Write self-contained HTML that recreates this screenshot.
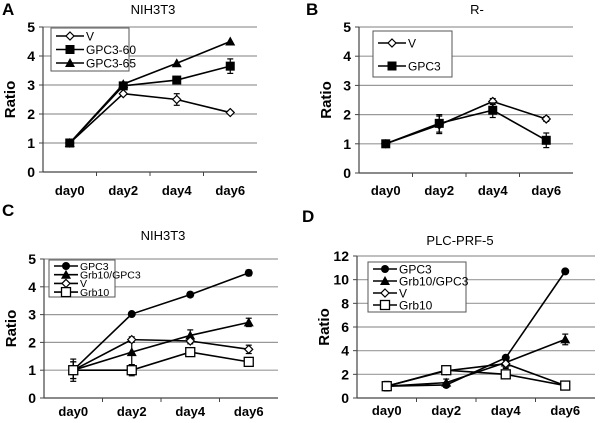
<!DOCTYPE html>
<html><head><meta charset="utf-8"><style>
body{margin:0;background:#fff;}
svg{display:block;font-family:"Liberation Sans",Arial,sans-serif;}
</style></head><body>
<svg id="fig" width="600" height="423" viewBox="0 0 600 423"></svg>
<script>
const categories=["day0","day2","day4","day6"];
// Panel A
const aV=[1,2.7,2.5,2.05], aG60=[1,2.97,3.17,3.65], aG65=[1,3.03,3.75,4.5];
const aVerr=[0,0.05,0.2,0.05], aG60err=[0,0.05,0.1,0.25], aG65err=[0,0,0,0];
// Panel B
const bV=[1,1.65,2.45,1.85], bG=[1,1.7,2.15,1.12];
const bVerr=[0.1,0.3,0.1,0.08], bGerr=[0.12,0.3,0.25,0.25];
// Panel C
const cG=[1,3.02,3.72,4.5], cGG=[1,1.65,2.25,2.72], cV=[1,2.1,2.05,1.75], cR=[1,1,1.65,1.3];
const cGerr=[0.1,0.05,0.08,0.1], cGGerr=[0.4,0.45,0.2,0.15], cVerr=[0.3,0.1,0.1,0.15], cRerr=[0.3,0.2,0.05,0.05];
// Panel D
const dG=[1,1.1,3.4,10.7], dGG=[1,1.3,3.0,4.95], dV=[1,2.3,2.9,1.05], dR=[1,2.35,2.0,1.05];
const dGerr=[0.4,0.2,0.2,0.1], dGGerr=[0.3,0.3,0.4,0.45], dVerr=[0.3,0.2,0.4,0.1], dRerr=[0.3,0.2,0.1,0.1];
const ticksA=[0,1,2,3,4,5], ticksD=[0,2,4,6,8,10,12];

const NS="http://www.w3.org/2000/svg", svg=document.getElementById('fig');
function el(tag,attrs,parent,txt){const e=document.createElementNS(NS,tag);for(const k in attrs)e.setAttribute(k,attrs[k]);if(txt!==undefined)e.textContent=txt;(parent||svg).appendChild(e);return e;}
function marker(g,type,x,y){
  let m;
  if(type==='circle')m=el('circle',{cx:x,cy:y,r:4,fill:'#000'},g);
  else if(type==='square')m=el('rect',{x:x-4.5,y:y-4.5,width:9,height:9,fill:'#000'},g);
  else if(type==='osquare')m=el('rect',{x:x-4.5,y:y-4.5,width:9,height:9,fill:'#fff',stroke:'#000','stroke-width':1.3},g);
  else if(type==='tri')m=el('polygon',{points:`${x},${y-5} ${x-5},${y+4} ${x+5},${y+4}`,fill:'#000'},g);
  else m=el('polygon',{points:`${x},${y-4} ${x+4},${y} ${x},${y+4} ${x-4},${y}`,fill:'#fff',stroke:'#000','stroke-width':1.2},g);
  return m;
}
function panel(p){
  const g=el('g',{});
  
  
  const max=p.ticks[p.ticks.length-1];
  const ys=v=>p.y0-(v/max)*(p.y0-p.y1);
  const xs=i=>p.x0+(i+0.5)*(p.x1-p.x0)/categories.length;
  const lt=el('text',{x:p.lx,y:p.ly,'font-size':17,'font-weight':'bold'},g,p.id);
  
  const tt=el('text',{x:p.tx,y:p.ty,'font-size':13,'text-anchor':'middle'},g,p.title);
  
  p.ticks.forEach(t=>{
    if(t>0){const gl=el('line',{x1:p.x0,x2:p.x1,y1:ys(t),y2:ys(t),stroke:'#999','stroke-width':1.2},g);
      }
    el('line',{x1:p.x0-4,x2:p.x0,y1:ys(t),y2:ys(t),stroke:'#444'},g);
    const tl=el('text',{x:p.x0-8,y:ys(t)+5,'font-size':14,'font-weight':'bold','text-anchor':'end'},g,t);
    
  });
  el('line',{x1:p.x0,x2:p.x0,y1:p.y1,y2:p.y0,stroke:'#444','stroke-width':1.2},g);
  el('line',{x1:p.x0,x2:p.x1,y1:p.y0,y2:p.y0,stroke:'#444','stroke-width':1.2},g);
  for(let i=1;i<categories.length;i++){const x=p.x0+i*(p.x1-p.x0)/categories.length;el('line',{x1:x,x2:x,y1:p.y0,y2:p.y0+4,stroke:'#444'},g);}
  categories.forEach((c,i)=>{const t=el('text',{x:xs(i),y:p.y0+p.xo,'font-size':13,'font-weight':'bold','text-anchor':'middle'},g,c);
    });
  const yt=el('text',{x:0,y:0,'font-size':15,'font-weight':'bold','text-anchor':'middle',transform:`translate(${p.x0-28},${(p.y0+p.y1)/2}) rotate(-90)`},g,'Ratio');
  
  p.series.forEach(s=>{
    const pts=s.v.map((v,i)=>xs(i)+','+ys(v)).join(' ');
    const pl=el('polyline',{points:pts,fill:'none',stroke:'#000','stroke-width':1.6},g);
    
    
    s.v.forEach((v,i)=>{const e=s.e[i];if(e>0){const x=xs(i);
      el('line',{x1:x,x2:x,y1:ys(v-e),y2:ys(v+e),stroke:'#000','stroke-width':1.2},g);
      el('line',{x1:x-3,x2:x+3,y1:ys(v-e),y2:ys(v-e),stroke:'#000','stroke-width':1.2},g);
      el('line',{x1:x-3,x2:x+3,y1:ys(v+e),y2:ys(v+e),stroke:'#000','stroke-width':1.2},g);}});
    s.v.forEach((v,i)=>{const m=marker(g,s.m,xs(i),ys(v));
      });
  });
  const L=p.legend;
  const lg=el('g',{},g);
  
  el('rect',{x:L.x,y:L.y,width:L.w,height:L.h,fill:'#fff',stroke:'#555','stroke-width':1},lg);
  p.series.forEach((s,i)=>{const y=L.y+L.pad+i*L.step;
    el('line',{x1:L.x+5,x2:L.x+5+L.ll,y1:y,y2:y,stroke:'#000','stroke-width':1.6},lg);
    marker(lg,s.m,L.x+5+L.ll/2,y);
    const t=el('text',{x:L.x+7+L.ll,y:y+L.fs*0.36,'font-size':L.fs},lg,s.name);
    });
}
panel({id:'A',title:'NIH3T3',lx:2,ly:15,tx:153,ty:14,x0:43,x1:257,y0:172,y1:27,xo:23,ticks:ticksA,
  legend:{x:51,y:28,w:78,h:43,pad:8,step:13.5,fs:12,ll:28},
  series:[{name:'V',v:aV,e:aVerr,m:'diamond'},{name:'GPC3-60',v:aG60,e:aG60err,m:'square'},{name:'GPC3-65',v:aG65,e:aG65err,m:'tri'}]});
panel({id:'B',title:'R-',lx:306,ly:15,tx:477,ty:14,x0:359,x1:573,y0:173,y1:27,xo:22,ticks:ticksA,
  legend:{x:373,y:31,w:79,h:46,pad:12,step:23,fs:12,ll:28},
  series:[{name:'V',v:bV,e:bVerr,m:'diamond'},{name:'GPC3',v:bG,e:bGerr,m:'square'}]});
panel({id:'C',title:'NIH3T3',lx:2,ly:216,tx:163,ty:240,x0:44,x1:278,y0:398,y1:259,xo:18,ticks:ticksA,
  legend:{x:49,y:260,w:66,h:37,pad:6,step:8.7,fs:10.5,ll:24},
  series:[{name:'GPC3',v:cG,e:cGerr,m:'circle'},{name:'Grb10/GPC3',v:cGG,e:cGGerr,m:'tri'},{name:'V',v:cV,e:cVerr,m:'diamond'},{name:'Grb10',v:cR,e:cRerr,m:'osquare'}]});
panel({id:'D',title:'PLC-PRF-5',lx:302,ly:222,tx:460,ty:245,x0:357,x1:595,y0:398,y1:256,xo:17,ticks:ticksD,
  legend:{x:368,y:262,w:98,h:50,pad:7,step:12,fs:12,ll:24},
  series:[{name:'GPC3',v:dG,e:dGerr,m:'circle'},{name:'Grb10/GPC3',v:dGG,e:dGGerr,m:'tri'},{name:'V',v:dV,e:dVerr,m:'diamond'},{name:'Grb10',v:dR,e:dRerr,m:'osquare'}]});
</script>
</body></html>
